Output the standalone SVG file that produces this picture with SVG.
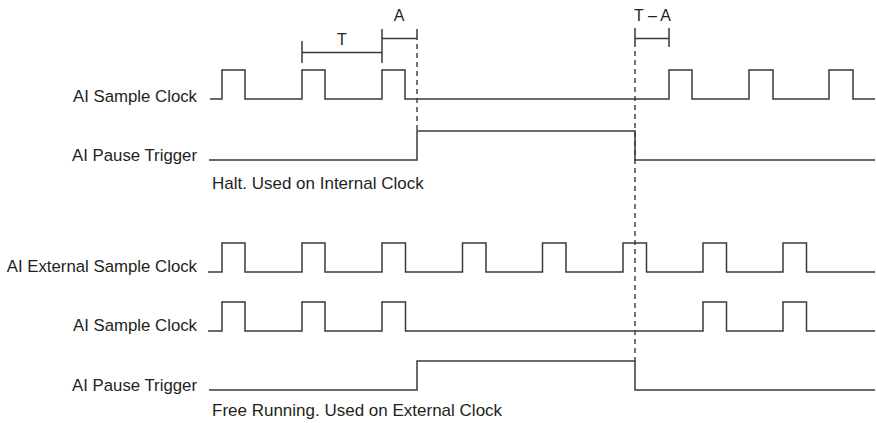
<svg xmlns="http://www.w3.org/2000/svg" width="876" height="423" viewBox="0 0 876 423">
<style>
.bg{fill:#ffffff}
.sig{fill:none;stroke:#3a3a3a;stroke-width:1.5;stroke-linejoin:miter}
.dim{fill:none;stroke:#3a3a3a;stroke-width:1.5}
.dash{fill:none;stroke:#3a3a3a;stroke-width:1.4;stroke-dasharray:5 4}
.lbl{font-family:"Liberation Sans",Arial,Helvetica,sans-serif;font-size:16.8px;fill:#231f20;text-anchor:end}
.cap{font-family:"Liberation Sans",Arial,Helvetica,sans-serif;font-size:17px;fill:#231f20}
.dl{font-family:"Liberation Sans",Arial,Helvetica,sans-serif;font-size:16px;fill:#231f20;text-anchor:middle}
</style>
<rect class="bg" x="0" y="0" width="876" height="423"/>
<g id="halt-sample-clock">
<text class="lbl" x="197" y="102">AI Sample Clock</text>
<path class="sig" d="M210,99 H222 V70 H245 V99 H302 V70 H325 V99 H382 V70 H405 V99 H669 V70 H692 V99 H749 V70 H773 V99 H829 V70 H853 V99 H875"/>
</g>
<g id="halt-pause-trigger">
<text class="lbl" x="197" y="161">AI Pause Trigger</text>
<path class="sig" d="M209,160 H417 V131 H635 V160 H875"/>
</g>
<text class="cap" x="212" y="189">Halt. Used on Internal Clock</text>
<g id="ext-sample-clock">
<text class="lbl" x="197" y="272">AI External Sample Clock</text>
<path class="sig" d="M208,272 H222 V243 H245 V272 H302 V243 H325 V272 H382 V243 H405.5 V272 H462.5 V243 H486 V272 H542.5 V243 H566 V272 H623 V243 H646.5 V272 H703 V243 H726.5 V272 H783 V243 H806.5 V272 H875"/>
</g>
<g id="free-sample-clock">
<text class="lbl" x="197" y="331">AI Sample Clock</text>
<path class="sig" d="M208,331 H222 V302 H245 V331 H302 V302 H325 V331 H382 V302 H405.5 V331 H703 V302 H726.5 V331 H783 V302 H806.5 V331 H875"/>
</g>
<g id="free-pause-trigger">
<text class="lbl" x="197" y="391">AI Pause Trigger</text>
<path class="sig" d="M209,390 H417 V361 H635 V390 H875"/>
</g>
<text class="cap" x="212" y="416">Free Running. Used on External Clock</text>
<g id="connectors">
<path class="dim" d="M302,41 V63 M382,29 V63 M302,52.5 H382 M382,38.5 H417 M417,29 V40 M635,28 V47 M635,38.5 H669 M669,28 V47"/>
<path class="dash" d="M417,44 V131 M635,51 V361"/>
<text class="dl" x="342" y="45">T</text>
<text class="dl" x="399" y="21">A</text>
<text class="dl" x="652.5" y="21">T – A</text>
</g>
</svg>
